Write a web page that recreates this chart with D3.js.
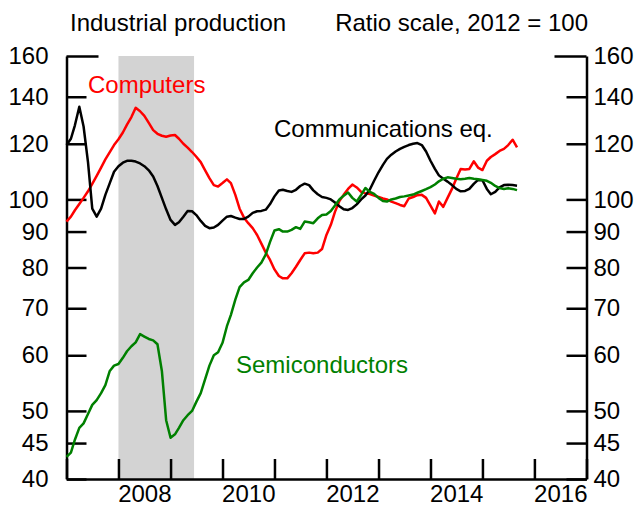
<!DOCTYPE html>
<html>
<head>
<meta charset="utf-8">
<script src="https://cdn.jsdelivr.net/npm/d3@7"></script>
<style>
  body { margin: 0; background: #fff; }
  svg { display: block; font-family: "Liberation Sans", Arial, sans-serif; }
</style>
</head>
<body>
<svg width="638" height="511"></svg>
<script>
// monthly index values, Jan 2007 .. Sep 2015 (2012 = 100)
const firstMonth = new Date(2007, 0, 1);

const computers = [
  93.0, 94.5, 96.5, 98.5, 100.5, 102.7, 105.2, 108.0, 111.0, 114.0, 116.8, 119.5,
  121.8, 124.5, 127.8, 131.0, 135.0, 133.5, 131.5, 128.5, 125.5, 124.0, 123.2, 122.8,
  123.3, 123.5, 122.0, 120.0, 118.5, 116.8, 115.0, 113.0, 110.0, 107.2, 104.8, 104.3,
  105.5, 106.8, 105.5, 101.5, 97.0, 94.2, 92.5, 91.0, 89.0, 86.5, 84.0, 82.0,
  79.5, 77.8, 77.2, 77.2, 78.5, 80.2, 82.0, 83.8, 84.0, 83.8, 84.0, 85.0,
  89.0, 92.0, 96.0, 99.5, 101.5, 103.5, 105.0, 104.0, 102.5, 102.0, 101.8, 101.3,
  100.8, 100.3, 100.0, 99.3, 98.8, 98.2, 97.8, 100.3, 100.8, 101.4, 101.5, 100.5,
  98.0, 95.5, 99.3, 97.6, 100.5, 103.5, 107.0, 110.5, 110.3, 110.5, 113.3, 111.0,
  110.1, 113.5, 114.9, 116.0, 117.2, 118.0, 119.5, 121.6, 118.6
];

const communications = [
  119.5, 122.0, 127.5, 135.5, 127.0, 113.0, 97.0, 94.5, 97.0, 101.5, 105.5, 109.5,
  111.5, 112.8, 113.5, 113.5, 113.2, 112.5, 111.5, 110.0, 107.8, 104.5, 100.5, 96.8,
  93.5, 92.0, 92.8, 94.5, 96.3, 96.2, 95.0, 93.2, 91.7, 91.0, 91.2, 92.0,
  93.3, 94.5, 94.7, 94.2, 93.8, 93.8, 94.5, 95.7, 96.2, 96.3, 96.7, 98.5,
  101.0, 103.0, 103.2, 102.8, 102.5, 103.2, 104.5, 105.3, 104.8, 103.0, 101.7, 100.8,
  100.5, 100.0, 99.0, 97.8, 96.8, 96.6, 97.2, 98.4, 100.0, 101.3, 103.3, 106.3,
  109.3, 112.0, 114.2, 115.8, 117.0, 118.0, 118.8, 119.5, 120.0, 120.3, 119.5, 117.0,
  113.5, 110.5, 108.2, 107.0, 106.0, 104.8, 103.5, 102.7, 102.8, 103.5, 105.2, 106.6,
  106.5, 103.5, 101.7, 102.5, 104.0, 104.8, 104.9, 104.8, 104.6
];

const semiconductors = [
  43.0, 43.6, 45.5, 47.3, 48.0, 49.5, 51.0, 51.8, 53.0, 54.4, 57.0, 58.0,
  58.3, 59.5, 60.8, 61.8, 62.6, 64.3, 63.8, 63.3, 63.0, 62.2, 57.0, 48.5,
  45.8, 46.3, 47.3, 48.5, 49.3, 50.0, 51.5, 53.0, 55.5, 58.0, 60.0, 60.6,
  62.5, 66.0, 68.5, 72.0, 75.0, 76.2, 76.8, 78.5, 80.0, 81.3, 83.5, 87.0,
  90.3, 90.7, 90.0, 90.0, 90.5, 91.3, 90.8, 93.0, 92.8, 92.5, 94.0, 95.0,
  95.2, 96.3, 98.0, 100.0, 101.2, 102.3, 100.5, 99.3, 101.5, 103.8, 102.5, 101.8,
  100.5, 99.5, 99.3, 100.0, 100.3, 100.8, 101.0, 101.3, 101.6, 102.2, 102.8, 103.4,
  104.1, 105.0, 106.1, 107.0, 107.5, 107.3, 107.0, 106.8, 107.0, 107.3, 107.0, 106.8,
  106.6, 106.3, 105.6, 104.5, 103.8, 103.5, 103.7, 103.5, 103.1
];

const months = computers.map((_, i) => d3.timeMonth.offset(firstMonth, i));

const yTicks = [40, 45, 50, 60, 70, 80, 90, 100, 120, 140, 160];
const yearTicks = d3.range(2007, 2018);
const yearLabels = [2008, 2010, 2012, 2014, 2016];
const recession = [new Date(2008, 0, 1), new Date(2009, 5, 15)];

const svg = d3.select("svg");
const plotLeft = 66.5, plotRight = 586.5, plotTop = 56, plotBottom = 479;

const x = d3.scaleTime()
  .domain([new Date(2007, 0, 1), new Date(2017, 0, 1)])
  .range([plotLeft, plotRight]);

const y = d3.scaleLog()
  .domain([40, 160])
  .range([plotBottom, plotTop]);

// recession shading
svg.append("rect")
  .attr("x", x(recession[0]))
  .attr("y", plotTop)
  .attr("width", x(recession[1]) - x(recession[0]))
  .attr("height", plotBottom - plotTop)
  .attr("fill", "#d3d3d3");

// titles
svg.append("text")
  .attr("x", 70).attr("y", 31)
  .attr("font-size", 24)
  .text("Industrial production");
svg.append("text")
  .attr("x", 588).attr("y", 31)
  .attr("font-size", 24)
  .attr("text-anchor", "end")
  .text("Ratio scale, 2012 = 100");

// axes
const styleAxis = (g) => {
  g.selectAll("path, line").attr("stroke", "#000").attr("stroke-width", 2.5);
  g.selectAll("text").attr("font-size", 24).attr("fill", "#000")
    .attr("font-family", "\"Liberation Sans\", Arial, sans-serif");
};

const leftAxis = svg.append("g")
  .attr("transform", `translate(${plotLeft},0)`)
  .call(d3.axisLeft(y).tickValues(yTicks).tickFormat(d3.format("d"))
    .tickSize(-20).tickSizeOuter(0).tickPadding(18))
  .call(styleAxis);
leftAxis.selectAll(".tick").filter(d => d === 160).select("line").attr("x2", 32);

const rightAxis = svg.append("g")
  .attr("transform", `translate(${plotRight},0)`)
  .call(d3.axisRight(y).tickValues(yTicks).tickFormat(d3.format("d"))
    .tickSize(-20).tickSizeOuter(0).tickPadding(7))
  .call(styleAxis);
rightAxis.selectAll(".tick").filter(d => d === 160).select("line").attr("x2", -32);

svg.append("g")
  .attr("transform", `translate(0,${plotBottom})`)
  .call(d3.axisBottom(x).tickValues(yearTicks.map(d => new Date(d, 0, 1)))
    .tickSize(-20).tickSizeOuter(0).tickFormat(""))
  .call(styleAxis);

svg.append("g")
  .attr("transform", `translate(0,${plotBottom})`)
  .call(d3.axisBottom(x).tickValues(yearLabels.map(d => new Date(d, 6, 1)))
    .tickSize(0).tickPadding(6).tickFormat(d3.timeFormat("%Y")))
  .call(styleAxis)
  .call(g => g.select(".domain").remove());

// series
const line = d3.line()
  .x((d, i) => x(months[i]))
  .y(d => y(d));

const series = [
  { name: "Computers", values: computers, color: "#ff0000" },
  { name: "Communications eq.", values: communications, color: "#000000" },
  { name: "Semiconductors", values: semiconductors, color: "#008000" }
];

svg.append("g")
  .selectAll("path")
  .data(series)
  .enter()
  .append("path")
  .attr("d", d => line(d.values))
  .attr("fill", "none")
  .attr("stroke", d => d.color)
  .attr("stroke-width", 2.5)
  .attr("stroke-linejoin", "round");

// series labels
svg.append("text").attr("x", 88).attr("y", 93)
  .attr("font-size", 24).attr("fill", "#ff0000").text("Computers");
svg.append("text").attr("x", 274).attr("y", 137)
  .attr("font-size", 24).attr("fill", "#000").text("Communications eq.");
svg.append("text").attr("x", 236).attr("y", 373)
  .attr("font-size", 24).attr("fill", "#008000").text("Semiconductors");
</script>
</body>
</html>
